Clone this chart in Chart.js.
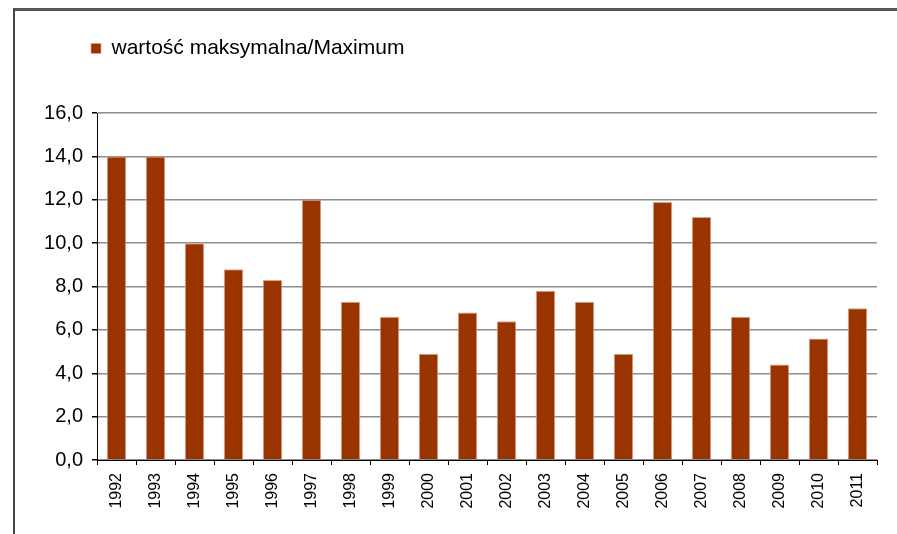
<!DOCTYPE html>
<html>
<head>
<meta charset="utf-8">
<script src="https://cdn.jsdelivr.net/npm/chart.js@4"></script>
<style>
  html, body { margin: 0; padding: 0; background: #fff; }
  #wrap { position: relative; width: 897px; height: 534px; }
  #frame { position: absolute; left: 13px; top: 8px; right: 0; bottom: 0;
           border-left: 2px solid #444; border-top: 3px solid #555; pointer-events: none; }
  canvas { position: absolute; left: 0; top: 0; }
</style>
</head>
<body>
<div id="wrap">
  <canvas id="barChart" width="897" height="534"></canvas>
  <div id="frame"></div>
</div>
<script>
const years = ["1992", "1993", "1994", "1995", "1996", "1997", "1998", "1999", "2000", "2001",
               "2002", "2003", "2004", "2005", "2006", "2007", "2008", "2009", "2010", "2011"];
const maxValues = [14.0, 14.0, 10.0, 8.8, 8.3, 12.0, 7.3, 6.6, 4.9, 6.8,
                   6.4, 7.8, 7.3, 4.9, 11.9, 11.2, 6.6, 4.4, 5.6, 7.0];
const seriesLabel = "wartość maksymalna/Maximum";
const yMin = 0, yMax = 16, yStep = 2;

const FONT = "'Liberation Sans', Arial, sans-serif";

// legend sits above the plot with a big gap, starting near the y axis
const legendPlace = {
  id: "legendPlace",
  beforeInit(chart) {
    const origFit = chart.legend.fit;
    chart.legend.fit = function () {
      origFit.bind(this)();
      this.height = 85;
    };
  },
  afterLayout(chart) {
    chart.legend.left = 81;
  }
};

new Chart(document.getElementById("barChart"), {
  type: "bar",
  data: {
    labels: years,
    datasets: [{
      label: seriesLabel,
      data: maxValues,
      backgroundColor: "#993300",
      borderColor: "#d9a58c",
      borderWidth: { left: 1, right: 1, top: 1, bottom: 0 },
      barPercentage: 0.5,
      categoryPercentage: 1.0
    }]
  },
  options: {
    responsive: false,
    animation: false,
    layout: { padding: { left: 0, right: 20, top: 28, bottom: 0 } },
    plugins: {
      tooltip: { enabled: false },
      legend: {
        position: "top",
        align: "start",
        labels: {
          boxWidth: 10,
          boxHeight: 10,
          padding: 10,
          color: "#000",
          font: { family: FONT, size: 21 }
        }
      }
    },
    scales: {
      x: {
        afterFit(scale) { scale.height = 74; },
        grid: {
          display: true,
          drawOnChartArea: false,
          offset: true,
          color: "#000",
          tickLength: 5
        },
        border: { color: "#000", width: 1 },
        ticks: {
          color: "#000",
          minRotation: 90,
          maxRotation: 90,
          padding: 8,
          font: { family: FONT, size: 16 }
        }
      },
      y: {
        min: yMin,
        max: yMax,
        afterFit(scale) { scale.width = 97; },
        grid: {
          color: "#8e8e8e",
          lineWidth: 1.5,
          tickColor: "#000",
          tickLength: 5
        },
        border: { color: "#000", width: 1 },
        ticks: {
          stepSize: yStep,
          color: "#000",
          padding: 9,
          font: { family: FONT, size: 20 },
          callback: v => v.toFixed(1).replace(".", ",")
        }
      }
    }
  },
  plugins: [legendPlace]
});
</script>
</body>
</html>
